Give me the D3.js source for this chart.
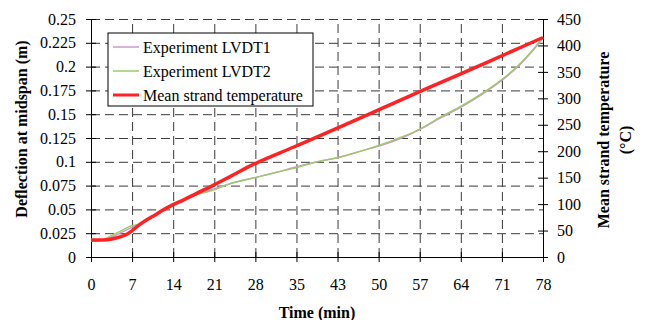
<!DOCTYPE html>
<html>
<head>
<meta charset="utf-8">
<script src="https://cdn.jsdelivr.net/npm/d3@7"></script>
<style>
  body { margin: 0; background: #fff; }
  text { font-family: "Liberation Serif", "Times New Roman", serif; }
</style>
</head>
<body>
<svg width="646" height="320"></svg>
<script>
// tick labels on the time axis (11 equal steps)
var timeLabels = [0, 7, 14, 21, 28, 35, 43, 50, 57, 64, 71, 78]
var deflTicks = [0, 0.025, 0.05, 0.075, 0.1, 0.125, 0.15, 0.175, 0.2, 0.225, 0.25]
var tempTicks = [0, 50, 100, 150, 200, 250, 300, 350, 400, 450]

// deflection readings (m)
var deflTime = [0, 1, 2, 3, 4, 5, 6, 7, 8, 9, 10, 12, 14, 16, 18, 21, 24, 28, 32, 35, 39, 43, 47, 50, 54, 57, 60, 64, 68, 71, 74, 76, 78]
var lvdt1 = [0.017, 0.017, 0.018, 0.020, 0.022, 0.025, 0.028, 0.031, 0.034, 0.037, 0.040, 0.047, 0.054, 0.060, 0.065, 0.071, 0.077, 0.083, 0.089, 0.094, 0.100, 0.105, 0.112, 0.117, 0.126, 0.135, 0.145, 0.158, 0.173, 0.186, 0.202, 0.215, 0.230]
var lvdt2 = [0.017, 0.017, 0.018, 0.021, 0.024, 0.027, 0.030, 0.033, 0.034, 0.037, 0.040, 0.047, 0.054, 0.060, 0.065, 0.070, 0.077, 0.083, 0.089, 0.093, 0.100, 0.105, 0.112, 0.118, 0.127, 0.135, 0.146, 0.159, 0.174, 0.187, 0.203, 0.216, 0.231]

// mean strand temperature (C)
var tempTime = [0, 2, 4, 5, 6, 7, 8, 9, 10, 11, 12, 14, 16, 18, 21, 24, 28, 35, 43, 50, 57, 64, 71, 78]
var strandTemp = [32, 32, 35, 38, 42, 49, 58, 66, 73, 79, 86, 98, 108, 119, 135, 152, 175, 208, 246, 280, 314, 347, 381, 415]

var legendNames = ['Experiment LVDT1', 'Experiment LVDT2', 'Mean strand temperature']
var legendColors = ['#cc99cc', '#99cc66', '#ff2222']

function drawChart() {
  var margin = {top: 19, right: 103, bottom: 63, left: 91}
  var width = 646 - margin.left - margin.right
  var height = 320 - margin.top - margin.bottom

  var svg = d3.select('svg')
  var g = svg.append('g').attr('transform', 'translate(' + margin.left + ',' + margin.top + ')')

  var x = d3.scaleLinear().domain([0, 78]).range([0, width])
  var y = d3.scaleLinear().domain([0, 0.25]).range([height, 0])
  var y2 = d3.scaleLinear().domain([0, 450]).range([height, 0])

  var xTickPos = timeLabels.map((d, i) => i * 78 / 11)

  // dashed grid, drawn through the axis generators
  var gridY = g.append('g').attr('class', 'grid')
    .call(d3.axisLeft(y).tickValues(deflTicks.slice(1)).tickSize(-width).tickFormat(''))
  var gridX = g.append('g').attr('class', 'grid').attr('transform', 'translate(0,' + height + ')')
    .call(d3.axisBottom(x).tickValues(xTickPos.slice(1, -1)).tickSize(-height).tickFormat(''))
  g.selectAll('.grid .domain').remove()
  g.selectAll('.grid line')
    .style('stroke', '#3a3a3a').style('stroke-width', '1px').style('stroke-dasharray', '9,5')

  // axes
  var xAxis = g.append('g').attr('transform', 'translate(0,' + height + ')')
    .call(d3.axisBottom(x).tickValues(xTickPos).tickSize(5).tickSizeOuter(0).tickPadding(17)
      .tickFormat((d, i) => timeLabels[i]))
  xAxis.selectAll('.tick line').attr('y1', -5).attr('y2', 5)

  var yAxis = g.append('g')
    .call(d3.axisLeft(y).tickValues(deflTicks).tickSize(5).tickSizeOuter(0).tickPadding(10)
      .tickFormat(d => d === 0 ? '0' : String(+d.toFixed(3))))
  yAxis.selectAll('.tick line').attr('x1', -5).attr('x2', 5)

  var yAxis2 = g.append('g').attr('transform', 'translate(' + width + ',0)')
    .call(d3.axisRight(y2).tickValues(tempTicks).tickSize(5).tickSizeOuter(0).tickPadding(9))
  yAxis2.selectAll('.tick line').attr('x1', -5).attr('x2', 5)

  svg.selectAll('.tick text').style('font-family', '"Liberation Serif", serif').style('font-size', '16px').attr('fill', '#000')

  // series
  var line = d3.line().curve(d3.curveMonotoneX)
  g.append('path')
    .attr('d', line(deflTime.map((t, i) => [x(t), y(lvdt1[i])])))
    .attr('fill', 'none').attr('stroke', legendColors[0]).attr('stroke-width', 1.5)
  g.append('path')
    .attr('d', line(deflTime.map((t, i) => [x(t), y(lvdt2[i])])))
    .attr('fill', 'none').attr('stroke', legendColors[1]).attr('stroke-width', 1.3)
  g.append('path')
    .attr('d', line(tempTime.map((t, i) => [x(t), y2(strandTemp[i])])))
    .attr('fill', 'none').attr('stroke', legendColors[2]).attr('stroke-width', 3.5)

  // legend
  var lg = svg.append('g').attr('transform', 'translate(108,33)')
  lg.append('rect').attr('width', 205).attr('height', 73)
    .attr('fill', '#fff').attr('stroke', '#000')
  legendNames.forEach(function(name, i) {
    var cy = 14 + i * 24
    lg.append('line').attr('x1', 5).attr('x2', 31).attr('y1', cy).attr('y2', cy)
      .attr('stroke', legendColors[i]).attr('stroke-width', i === 2 ? 3 : 1.5)
    lg.append('text').attr('x', 35).attr('y', cy + 5.5)
      .style('font-size', '16px').text(name)
  })

  // axis titles
  svg.append('text')
    .attr('transform', 'translate(27,129) rotate(-90)')
    .style('text-anchor', 'middle').style('font-size', '16px').style('font-weight', 'bold')
    .text('Deflection at midspan (m)')
  svg.append('text')
    .attr('transform', 'translate(609,140) rotate(-90)')
    .style('text-anchor', 'middle').style('font-size', '16px').style('font-weight', 'bold')
    .text('Mean strand temperature')
  svg.append('text')
    .attr('transform', 'translate(631,140) rotate(-90)')
    .style('text-anchor', 'middle').style('font-size', '16px').style('font-weight', 'bold')
    .text('(°C)')
  svg.append('text')
    .attr('x', 317).attr('y', 318)
    .style('text-anchor', 'middle').style('font-size', '16px').style('font-weight', 'bold')
    .text('Time (min)')
}

drawChart()
</script>
</body>
</html>
